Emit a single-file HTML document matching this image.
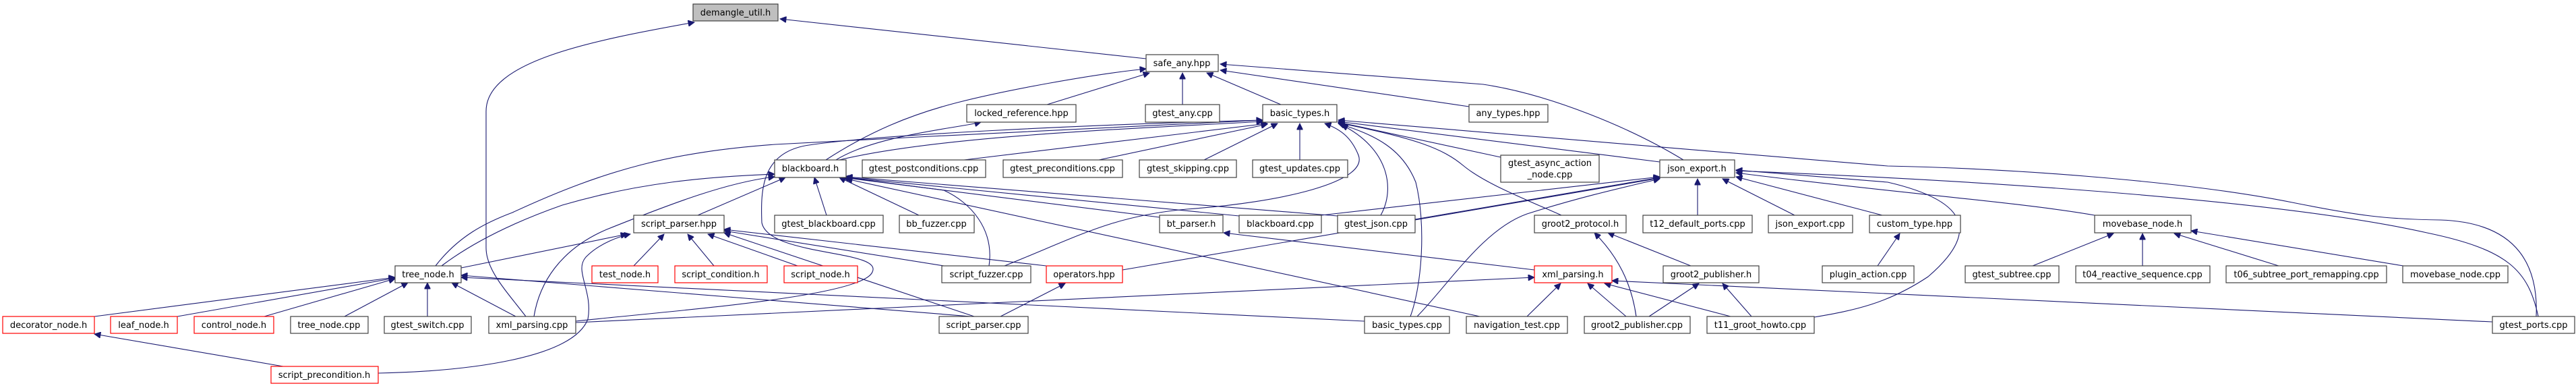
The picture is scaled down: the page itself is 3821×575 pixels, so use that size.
<!DOCTYPE html>
<html><head><meta charset="utf-8"><style>
html,body{margin:0;padding:0;background:#fff;}
svg{display:block;}
text{font-family:"DejaVu Sans","Liberation Sans",sans-serif;font-size:13px;fill:#000;}
.n{fill:#fff;stroke:#404040;stroke-width:1.2;}
.r{fill:#fff;stroke:#ff0000;stroke-width:1.2;}
.g{fill:#bfbfbf;stroke:#404040;stroke-width:1.2;}
.e{fill:none;stroke:#191970;stroke-width:1.1;marker-end:url(#a);}
</style></head><body>
<svg width="3821" height="575" viewBox="0 0 3821 575" xmlns="http://www.w3.org/2000/svg">
<defs><marker id="a" viewBox="0 0 10 10" refX="10" refY="5" markerWidth="12" markerHeight="9" orient="auto" markerUnits="userSpaceOnUse"><path d="M0,0 L10,5 L0,10 z" fill="#191970" stroke="#191970"/></marker></defs>

<g>
<path class="e" d="M1700,87 L1157,28"/>
<path class="e" d="M780,469 C750,430 721,400 721,367 L721,165 C721,90 880,60 1030,33"/>
<path class="e" d="M1225,237 C1290,195 1350,170 1420,152 S1620,110 1700,102"/>
<path class="e" d="M1553,155 L1705,108"/>
<path class="e" d="M1754,155 L1754,108"/>
<path class="e" d="M1900,155 L1790,108"/>
<path class="e" d="M2179,158 L1810,104"/>
<path class="e" d="M2497,237 C2420,190 2300,140 2200,125 L1810,95"/>
<path class="e" d="M1240,237 C1300,200 1420,190 1455,181"/>
<path class="e" d="M1245,237 C1400,200 1700,190 1873,180"/>
<path class="e" d="M646,394 C680,350 720,330 760,315 C900,250 1000,225 1150,214 C1400,200 1700,188 1873,178"/>
<path class="e" d="M1430,237 L1880,183"/>
<path class="e" d="M1630,237 L1880,184"/>
<path class="e" d="M1786,237 L1895,183"/>
<path class="e" d="M1928,237 L1928,183"/>
<path class="e" d="M2048,319 C2070,280 2060,220 1990,185"/>
<path class="e" d="M1490,394 C1600,350 1650,320 1760,310 C1900,300 2030,270 2015,230 C2005,205 1990,192 1965,183"/>
<path class="e" d="M2092,469 C2110,420 2115,330 2100,270 C2080,220 2040,200 1985,183"/>
<path class="e" d="M2226,233 L1985,181"/>
<path class="e" d="M2316,319 C2250,290 2200,270 2170,245 C2140,220 2100,205 1985,182"/>
<path class="e" d="M2462,240 L1985,180"/>
<path class="e" d="M3762,469 C3765,400 3740,330 3620,326 C3540,325 3500,320 3400,300 C3250,270 3000,250 2800,246 L1985,178"/>
<path class="e" d="M854,476 C1000,460 1280,440 1294,403 C1310,370 1140,380 1130,330 C1128,280 1130,225 1200,215 C1300,200 1600,185 1873,178"/>
<path class="e" d="M2518,319 L2518,265"/>
<path class="e" d="M2662,319 L2555,265"/>
<path class="e" d="M2792,319 L2575,262"/>
<path class="e" d="M3107,319 C3000,300 2800,285 2575,256"/>
<path class="e" d="M3765,469 C3750,400 3720,370 3600,345 C3400,300 3000,270 2575,253"/>
<path class="e" d="M2691,470 C2750,460 2800,450 2860,410 C2930,350 2930,300 2800,270 L2575,252"/>
<path class="e" d="M2102,469 C2150,420 2200,340 2265,317 C2350,290 2420,275 2462,265"/>
<path class="e" d="M1960,319 L2462,262"/>
<path class="e" d="M2099,325 L2462,263"/>
<path class="e" d="M1665,400 L2462,264"/>
<path class="e" d="M655,394 C700,360 760,330 834,304 C950,270 1050,262 1149,258"/>
<path class="e" d="M792,469 C800,420 830,370 900,340 C1000,300 1080,270 1149,262"/>
<path class="e" d="M1035,319 L1165,263"/>
<path class="e" d="M1226,319 L1208,263"/>
<path class="e" d="M1363,319 L1245,263"/>
<path class="e" d="M1720,322 L1250,263"/>
<path class="e" d="M1838,320 L1255,263"/>
<path class="e" d="M1984,320 L1255,262"/>
<path class="e" d="M2195,469 L1255,265"/>
<path class="e" d="M1467,394 C1475,340 1440,300 1400,282 L1255,263"/>
<path class="e" d="M140,469 L586,411"/>
<path class="e" d="M263,469 L586,412"/>
<path class="e" d="M392,469 L586,413"/>
<path class="e" d="M511,469 L605,419"/>
<path class="e" d="M634,469 L634,419"/>
<path class="e" d="M765,469 L670,419"/>
<path class="e" d="M1440,469 L684,408"/>
<path class="e" d="M2024,476 L684,411"/>
<path class="e" d="M684,397 L930,347"/>
<path class="e" d="M940,394 L985,347"/>
<path class="e" d="M1059,394 L1020,347"/>
<path class="e" d="M1183,394 L1050,347"/>
<path class="e" d="M561,553 C700,550 850,530 872,473 C880,430 850,400 870,380 C890,360 920,350 935,347"/>
<path class="e" d="M1400,394 L1074,342"/>
<path class="e" d="M1445,469 L1074,345"/>
<path class="e" d="M1552,394 L1074,340"/>
<path class="e" d="M420,543 L140,495"/>
<path class="e" d="M1484,469 L1580,420"/>
<path class="e" d="M2276,400 L1815,345"/>
<path class="e" d="M854,478 L2276,411"/>
<path class="e" d="M2265,469 L2315,420"/>
<path class="e" d="M2412,469 L2355,420"/>
<path class="e" d="M2567,469 L2380,420"/>
<path class="e" d="M3697,477 L2391,416"/>
<path class="e" d="M2508,394 L2385,345"/>
<path class="e" d="M2427,469 C2420,420 2400,380 2365,345"/>
<path class="e" d="M2446,469 L2520,420"/>
<path class="e" d="M2598,469 L2555,420"/>
<path class="e" d="M2785,394 L2818,346"/>
<path class="e" d="M3015,394 L3135,346"/>
<path class="e" d="M3178,394 L3178,346"/>
<path class="e" d="M3380,394 L3225,346"/>
<path class="e" d="M3565,394 L3250,342"/>
</g>

<g text-anchor="middle">
<rect class="g" x="1028" y="6" width="126" height="25"/><text x="1091" y="23">demangle_util.h</text>
<rect class="n" x="1700" y="81" width="107" height="25"/><text x="1753" y="98">safe_any.hpp</text>
<rect class="n" x="1434" y="155" width="162" height="26"/><text x="1515" y="172">locked_reference.hpp</text>
<rect class="n" x="1699" y="155" width="110" height="26"/><text x="1754" y="172">gtest_any.cpp</text>
<rect class="n" x="1873" y="155" width="110" height="26"/><text x="1928" y="172">basic_types.h</text>
<rect class="n" x="2179" y="155" width="117" height="26"/><text x="2237" y="172">any_types.hpp</text>

<rect class="n" x="1149" y="237" width="106" height="26"/><text x="1202" y="254">blackboard.h</text>
<rect class="n" x="1279" y="237" width="183" height="26"/><text x="1370" y="254">gtest_postconditions.cpp</text>
<rect class="n" x="1488" y="237" width="177" height="26"/><text x="1576" y="254">gtest_preconditions.cpp</text>
<rect class="n" x="1690" y="237" width="144" height="26"/><text x="1762" y="254">gtest_skipping.cpp</text>
<rect class="n" x="1858" y="237" width="141" height="26"/><text x="1928" y="254">gtest_updates.cpp</text>
<rect class="n" x="2226" y="230" width="146" height="40"/><text x="2299" y="246">gtest_async_action</text><text x="2299" y="263">_node.cpp</text>
<rect class="n" x="2462" y="237" width="111" height="26"/><text x="2517" y="254">json_export.h</text>

<rect class="n" x="940" y="319" width="134" height="26"/><text x="1007" y="336">script_parser.hpp</text>
<rect class="n" x="1149" y="319" width="161" height="26"/><text x="1229" y="336">gtest_blackboard.cpp</text>
<rect class="n" x="1334" y="319" width="111" height="26"/><text x="1389" y="336">bb_fuzzer.cpp</text>
<rect class="n" x="1720" y="319" width="94" height="26"/><text x="1767" y="336">bt_parser.h</text>
<rect class="n" x="1838" y="319" width="122" height="26"/><text x="1899" y="336">blackboard.cpp</text>
<rect class="n" x="1984" y="319" width="115" height="26"/><text x="2041" y="336">gtest_json.cpp</text>
<rect class="n" x="2276" y="319" width="136" height="26"/><text x="2344" y="336">groot2_protocol.h</text>
<rect class="n" x="2437" y="319" width="162" height="26"/><text x="2518" y="336">t12_default_ports.cpp</text>
<rect class="n" x="2623" y="319" width="125" height="26"/><text x="2685" y="336">json_export.cpp</text>
<rect class="n" x="2773" y="319" width="135" height="26"/><text x="2840" y="336">custom_type.hpp</text>
<rect class="n" x="3107" y="319" width="143" height="26"/><text x="3178" y="336">movebase_node.h</text>

<rect class="n" x="586" y="394" width="98" height="25"/><text x="635" y="411">tree_node.h</text>
<rect class="r" x="878" y="394" width="98" height="25"/><text x="927" y="411">test_node.h</text>
<rect class="r" x="1001" y="394" width="137" height="25"/><text x="1069" y="411">script_condition.h</text>
<rect class="r" x="1163" y="394" width="109" height="25"/><text x="1217" y="411">script_node.h</text>
<rect class="n" x="1397" y="394" width="132" height="25"/><text x="1463" y="411">script_fuzzer.cpp</text>
<rect class="r" x="1552" y="394" width="113" height="25"/><text x="1608" y="411">operators.hpp</text>
<rect class="r" x="2276" y="394" width="115" height="25"/><text x="2333" y="411">xml_parsing.h</text>
<rect class="n" x="2467" y="394" width="142" height="25"/><text x="2538" y="411">groot2_publisher.h</text>
<rect class="n" x="2703" y="394" width="136" height="25"/><text x="2771" y="411">plugin_action.cpp</text>
<rect class="n" x="2915" y="394" width="139" height="25"/><text x="2984" y="411">gtest_subtree.cpp</text>
<rect class="n" x="3079" y="394" width="199" height="25"/><text x="3178" y="411">t04_reactive_sequence.cpp</text>
<rect class="n" x="3302" y="394" width="238" height="25"/><text x="3421" y="411">t06_subtree_port_remapping.cpp</text>
<rect class="n" x="3564" y="394" width="156" height="25"/><text x="3642" y="411">movebase_node.cpp</text>

<rect class="r" x="4" y="469" width="136" height="25"/><text x="72" y="486">decorator_node.h</text>
<rect class="r" x="164" y="469" width="99" height="25"/><text x="213" y="486">leaf_node.h</text>
<rect class="r" x="288" y="469" width="118" height="25"/><text x="347" y="486">control_node.h</text>
<rect class="n" x="431" y="469" width="115" height="25"/><text x="488" y="486">tree_node.cpp</text>
<rect class="n" x="570" y="469" width="129" height="25"/><text x="634" y="486">gtest_switch.cpp</text>
<rect class="n" x="725" y="469" width="129" height="25"/><text x="789" y="486">xml_parsing.cpp</text>
<rect class="n" x="1393" y="469" width="132" height="25"/><text x="1459" y="486">script_parser.cpp</text>
<rect class="n" x="2024" y="469" width="126" height="25"/><text x="2087" y="486">basic_types.cpp</text>
<rect class="n" x="2175" y="469" width="150" height="25"/><text x="2250" y="486">navigation_test.cpp</text>
<rect class="n" x="2350" y="469" width="157" height="25"/><text x="2428" y="486">groot2_publisher.cpp</text>
<rect class="n" x="2532" y="469" width="159" height="25"/><text x="2611" y="486">t11_groot_howto.cpp</text>
<rect class="n" x="3697" y="469" width="122" height="25"/><text x="3758" y="486">gtest_ports.cpp</text>

<rect class="r" x="402" y="543" width="159" height="25"/><text x="481" y="560">script_precondition.h</text>
</g>
</svg>
</body></html>
